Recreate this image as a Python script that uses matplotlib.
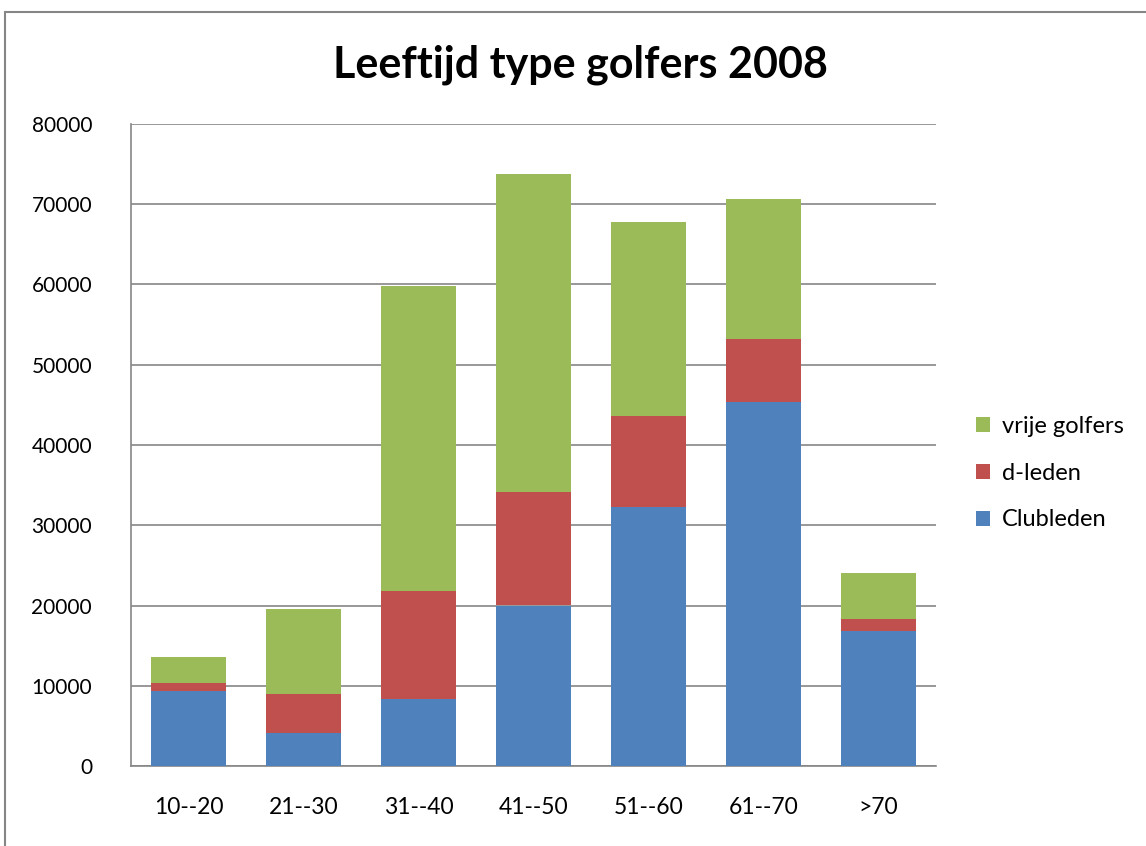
import numpy as np
import matplotlib
matplotlib.use("Agg")
import matplotlib.pyplot as plt
from matplotlib.patches import Rectangle

plt.rcParams['font.family'] = ['Lato', 'DejaVu Sans']

categories = ['10--20', '21--30', '31--40', '41--50', '51--60', '61--70', '>70']
clubleden = [9300, 4050, 8300, 20000, 32250, 45350, 16800]
d_leden = [1080, 4950, 13480, 14140, 11380, 7920, 1580]
vrije_golfers = [3250, 10620, 38090, 39630, 24170, 17390, 5620]

blue = '#4f81bd'
red = '#c0504d'
green = '#9bbb59'

fig = plt.figure(figsize=(11.46, 8.46), dpi=100)
ax = fig.add_axes([131 / 1146, 1 - 766 / 846, 805 / 1146, 642 / 846])

x = np.arange(len(categories))
w = 0.645
b1 = np.array(clubleden)
b2 = b1 + np.array(d_leden)
ax.bar(x, clubleden, w, color=blue, label='Clubleden', zorder=3)
ax.bar(x, d_leden, w, bottom=b1, color=red, label='d-leden', zorder=3)
ax.bar(x, vrije_golfers, w, bottom=b2, color=green, label='vrije golfers', zorder=3)

ax.set_xlim(-0.5, len(categories) - 0.5)
ax.set_ylim(0, 80000)
ax.set_yticks(range(0, 80001, 10000))
ax.set_xticks(x)
ax.set_xticklabels(categories)
ax.tick_params(axis='both', length=0, colors='black')
ax.tick_params(axis='y', labelsize=15, pad=28)
ax.tick_params(axis='x', labelsize=16.5, pad=22)
ax.yaxis.grid(True, color='#868686', linewidth=1.2, zorder=0)
for s in ['top', 'right']:
    ax.spines[s].set_visible(False)
for s in ['left', 'bottom']:
    ax.spines[s].set_color('#868686')
    ax.spines[s].set_linewidth(1.2)

handles, labels = ax.get_legend_handles_labels()
leg = fig.legend(handles[::-1], labels[::-1], loc='center left',
                 bbox_to_anchor=(955 / 1146, 1 - 473 / 846), frameon=False,
                 fontsize=17, handlelength=0.6, handleheight=0.6,
                 labelspacing=1.1, handletextpad=0.5)

fig.text(580 / 1146, 1 - 65 / 846, 'Leeftijd type golfers 2008', ha='center',
         va='center', fontsize=31, fontweight='bold')

fig.patches.append(Rectangle((5 / 1146, -0.1), 1.2, 1 - 12 / 846 + 0.1,
                             transform=fig.transFigure, fill=False,
                             edgecolor='#868686', linewidth=1.5))

fig.savefig('out.png', dpi=100)
